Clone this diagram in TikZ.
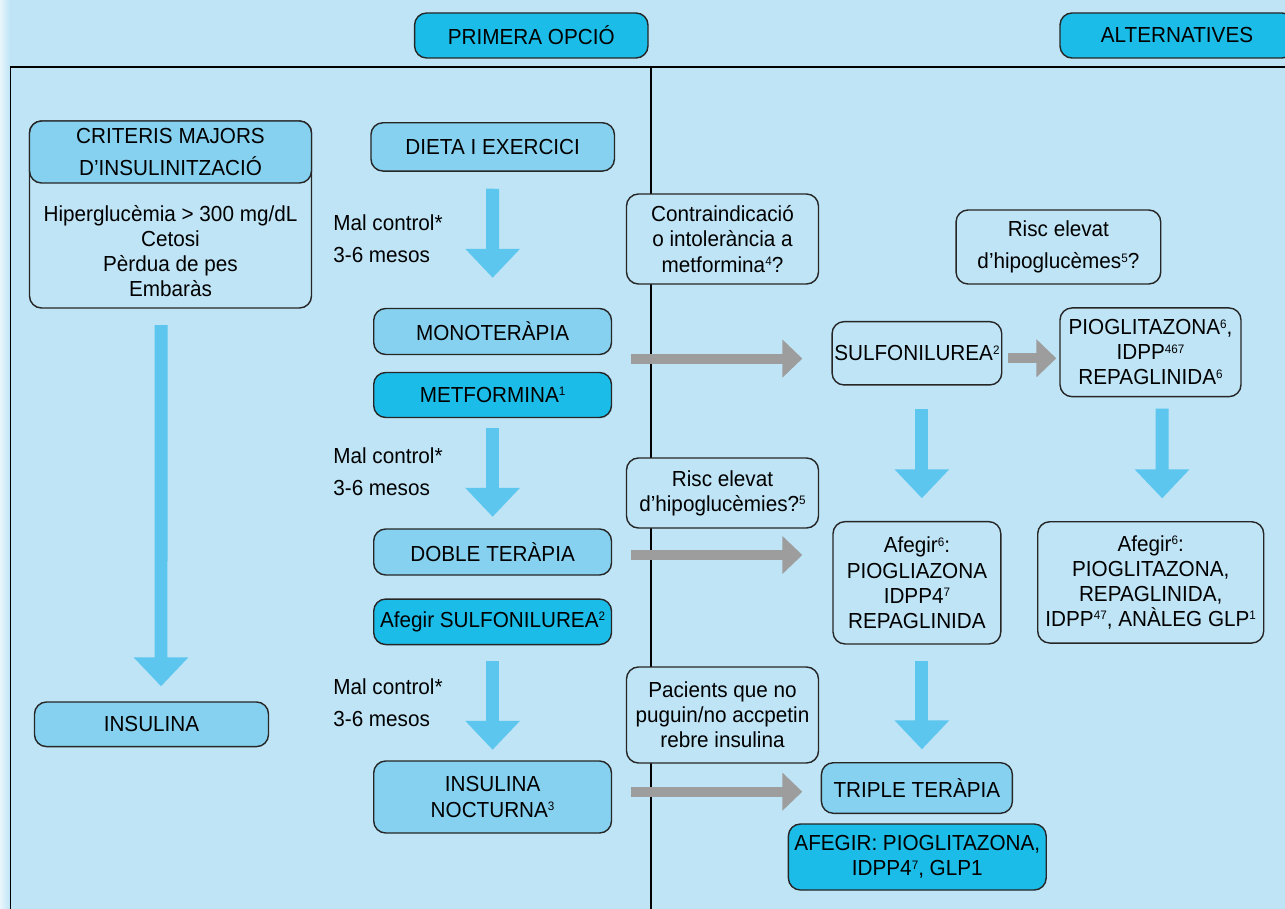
\documentclass[tikz,border=0pt]{standalone}
\usepackage{fontspec}
\setmainfont{Liberation Sans}[FakeStretch=0.95]
\usetikzlibrary{arrows.meta}
\definecolor{bgblue}{HTML}{BEE4F6}
\definecolor{midblue}{HTML}{87D1F0}
\definecolor{darkcyan}{HTML}{1BBCE8}
\definecolor{arrblue}{HTML}{5CC6EE}
\definecolor{arrgrey}{HTML}{9D9D9D}
\newlength\pxu
\setlength\pxu{0.02cm}
\newcommand{\sx}[1]{\raisebox{3.8pt}{\fontsize{7}{7}\selectfont #1}}
\begin{document}
\begin{tikzpicture}[x=0.02cm, y=-0.02cm,
		every node/.style={inner sep=0pt, align=center, font=\fontsize{12.4}{14.3}\selectfont},
		box/.style n args={2}{draw=black!85, line width=0.8pt, rounded corners=0.24cm, fill=bgblue, minimum width=#1\pxu, minimum height=#2\pxu},
		bluearr/.style={draw=arrblue, line width=0.26cm, -{Triangle[width=1.06cm, length=0.58cm]}},
		greyarr/.style={draw=arrgrey, line width=0.2cm, -{Triangle[width=0.74cm, length=0.4cm]}}]
		\useasboundingbox (0,0) rectangle (1285,909);
		\clip (0,0) rectangle (1285,909);
		\fill [bgblue] (0,0) rectangle (1285,909);
		\shade [left color=bgblue!35!white, right color=bgblue] (0,0) rectangle (10,909);
		\draw [black, line width=0.85pt] (10.5,909) -- (10.5,67) -- (1290,67);
		\draw [black, line width=0.85pt] (651,67) -- (651,909);
		\node [box={233.4}{45}, fill=darkcyan] (primera) at (531.3,35.5) {PRIMERA OPCIÓ};
		\node [box={234}{45}, fill=darkcyan] (altern) at (1177,35.5) {ALTERNATIVES};
		\node [box={282}{187}] (crit) at (170.5,214.5) {};
		\node [box={282}{62}, fill=midblue] (crithead) at (170.5,152) {CRITERIS MAJORS\\[3.8pt]D’INSULINITZACIÓ};
		\node (critbody) at (170.5,251) {Hiperglucèmia > 300 mg/dL\\Cetosi\\Pèrdua de pes\\Embaràs};
		\node [box={234}{44.6}, fill=midblue] (insul) at (151.5,724.3) {INSULINA};
		\node [box={243.5}{48.3}, fill=midblue] (dieta) at (492.7,146.9) {DIETA I EXERCICI};
		\node [anchor=west, align=left] (mal1) at (333,238.8) {Mal control*\\[4pt]3-6 mesos};
		\node [box={237.8}{46}, fill=midblue] (mono) at (492.6,331.5) {MONOTERÀPIA};
		\node [box={237.8}{45}, fill=darkcyan] (metf) at (492.6,395) {METFORMINA\sx{1}};
		\node [anchor=west, align=left] (mal2) at (333,471.5) {Mal control*\\[4pt]3-6 mesos};
		\node [box={237.8}{46}, fill=midblue] (doble) at (492.6,552) {DOBLE TERÀPIA};
		\node [box={237.8}{45.5}, fill=darkcyan] (afsulf) at (492.6,621.8) {Afegir SULFONILUREA\sx{2}};
		\node [anchor=west, align=left] (mal3) at (333,703.1) {Mal control*\\[4pt]3-6 mesos};
		\node [box={237.8}{72}, fill=midblue] (noct) at (492.6,797) {INSULINA\\NOCTURNA\sx{3}};
		\node [box={192}{90}] (contra) at (722.5,239) {Contraindicació\\o intolerància a\\metformina\sx{4}?};
		\node [box={192}{70}] (risc2) at (722.5,493) {Risc elevat\\d’hipoglucèmies?\sx{5}};
		\node [box={192}{96}] (pacients) at (722.5,715) {Pacients que no\\puguin/no accpetin\\rebre insulina};
		\node [box={204.7}{74}] (risc1) at (1058.4,247) {Risc elevat\\[4pt]d’hipoglucèmes\sx{5}?};
		\node [box={169.7}{63.3}] (sulfo) at (916.9,353.3) {SULFONILUREA\sx{2}};
		\node [box={181}{88.7}] (pio) at (1150.5,352.3) {PIOGLITAZONA\sx{6},\\IDPP\sx{467}\\REPAGLINIDA\sx{6}};
		\node [box={167.8}{122.3}] (afA) at (916.9,582.8) {Afegir\sx{6}:\\PIOGLIAZONA\\IDPP4\sx{7}\\REPAGLINIDA};
		\node [box={226}{121.3}] (afB) at (1150.7,582.4) {Afegir\sx{6}:\\PIOGLITAZONA,\\REPAGLINIDA,\\IDPP\sx{47}, ANÀLEG GLP\sx{1}};
		\node [box={191}{50.6}, fill=midblue] (triple) at (916.9,788) {TRIPLE TERÀPIA};
		\node [box={257.8}{66}, fill=darkcyan] (afegirT) at (917.3,857) {AFEGIR: PIOGLITAZONA,\\IDPP4\sx{7}, GLP1};
		\draw [bluearr, shorten <=0.33cm, shorten >=0.3cm] ([xshift=-0.19cm]crit.south) -- ([xshift=0.19cm]insul.north);
		\draw [bluearr, shorten <=0.34cm, shorten >=0.6cm] (dieta) -- (mono);
		\draw [bluearr, shorten <=0.194cm, shorten >=0.23cm] (metf) -- (doble);
		\draw [bluearr, shorten <=0.31cm, shorten >=0.21cm] (afsulf) -- (noct);
		\draw [bluearr, shorten <=0.46cm, shorten >=0.454cm] ([xshift=0.1cm]sulfo.south) -- ([xshift=0.1cm]afA.north);
		\draw [bluearr, shorten <=0.226cm, shorten >=0.454cm] ([xshift=0.23cm]pio.south) -- ([xshift=0.23cm]afB.north);
		\draw [bluearr, shorten <=0.334cm, shorten >=0.254cm] ([xshift=0.1cm]afA.south) -- ([xshift=0.1cm]triple.north);
		\coordinate (g1) at (631,358.6);
		\coordinate (g2) at (631,555);
		\coordinate (g3) at (631,791.7);
		\draw [greyarr, shorten >=0.58cm] (g1) -- (g1 -| sulfo.west);
		\draw [greyarr, shorten >=0.6cm] (g2) -- (g2 -| afA.west);
		\draw [greyarr, shorten >=0.368cm] (g3) -- (g3 -| triple.west);
		\draw [greyarr, shorten <=0.12cm, shorten >=0.06cm] ([yshift=-0.1cm]sulfo.east) -- ([yshift=-0.1cm]sulfo.east -| pio.west);
	\end{tikzpicture}
\end{document}
